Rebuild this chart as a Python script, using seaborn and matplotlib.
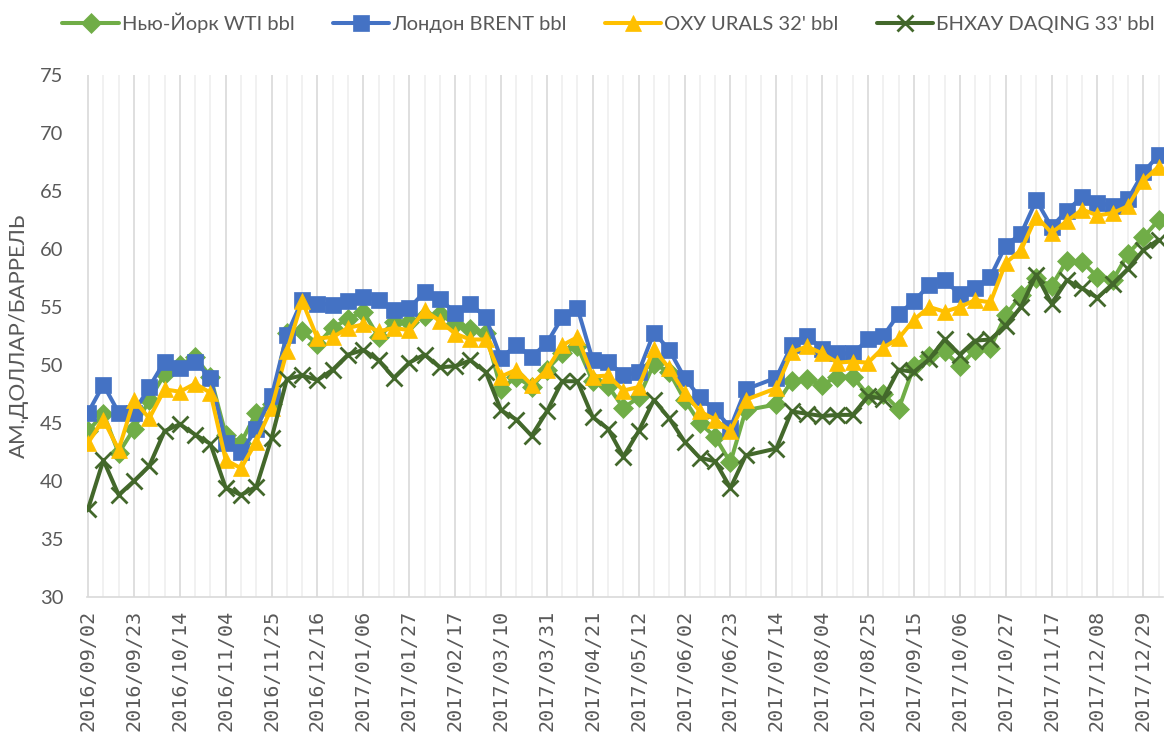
import matplotlib
matplotlib.use("Agg")
import matplotlib.pyplot as plt
import seaborn as sns
import pandas as pd

# --- data (weekly, 2017/07/07 missing in source) ---
all_weeks = pd.date_range("2016-09-02", "2018-01-05", freq="7D")
dates = all_weeks[all_weeks != pd.Timestamp("2017-07-07")]

wti = [44.3, 45.8, 42.4, 44.5, 47.0, 49.2, 50.0, 50.7, 49.0, 44.0,
       43.3, 45.9, 46.6, 52.8, 52.9, 51.8, 53.2, 54.0, 54.6, 52.4,
       53.7, 53.7, 54.2, 54.4, 53.5, 53.1, 52.8, 47.9, 49.0, 48.1,
       49.6, 51.0, 51.6, 48.6, 48.2, 46.3, 47.2, 50.1, 49.4, 47.0,
       45.0, 43.8, 41.6, 46.1,
       46.6, 48.6, 48.8, 48.3, 49.0, 49.0, 47.4, 47.5, 46.2, 49.9,
       50.8, 51.2, 49.9, 51.3, 51.5, 54.3, 56.0, 57.5, 56.8, 59.0,
       58.9, 57.6, 57.3, 59.6, 61.0, 62.5]
brent = [45.9, 48.3, 45.9, 45.9, 48.1, 50.3, 49.7, 50.3, 48.9, 43.3,
         42.5, 44.5, 47.3, 52.6, 55.6, 55.3, 55.2, 55.5, 55.9, 55.6,
         54.7, 54.9, 56.3, 55.7, 54.5, 55.3, 54.1, 50.6, 51.7, 50.7,
         51.9, 54.1, 54.9, 50.4, 50.3, 49.1, 49.4, 52.8, 51.3, 48.9,
         47.2, 46.1, 44.6, 47.9,
         48.9, 51.7, 52.5, 51.4, 51.0, 51.0, 52.2, 52.5, 54.4, 55.5,
         56.9, 57.3, 56.1, 56.6, 57.6, 60.3, 61.3, 64.2, 61.9, 63.3,
         64.5, 64.0, 63.7, 64.3, 66.6, 68.1]
urals = [43.3, 45.3, 42.7, 47.0, 45.4, 47.9, 47.7, 48.4, 47.6, 41.8,
         41.1, 43.4, 46.3, 51.2, 55.5, 52.3, 52.4, 53.2, 53.5, 52.9,
         53.2, 53.0, 54.7, 53.8, 52.7, 52.2, 52.2, 49.0, 49.6, 48.3,
         49.6, 51.7, 52.4, 49.0, 49.1, 47.8, 48.1, 51.4, 49.7, 47.6,
         46.0, 45.3, 44.3, 47.0,
         48.0, 51.1, 51.6, 51.0, 50.2, 50.3, 50.2, 51.5, 52.3, 53.9,
         55.0, 54.6, 55.0, 55.6, 55.4, 58.8, 59.9, 62.8, 61.4, 62.4,
         63.4, 62.9, 63.1, 63.7, 65.9, 67.1]
daqing = [37.6, 41.8, 38.8, 40.0, 41.3, 44.3, 44.9, 44.0, 43.2, 39.4,
          38.8, 39.5, 43.7, 48.8, 49.1, 48.7, 49.6, 50.9, 51.3, 50.4,
          48.9, 50.2, 50.9, 49.8, 49.9, 50.4, 49.4, 46.1, 45.3, 43.9,
          46.0, 48.6, 48.6, 45.5, 44.5, 42.1, 44.3, 47.0, 45.4, 43.4,
          42.0, 41.7, 39.4, 42.2,
          42.8, 46.0, 45.8, 45.6, 45.7, 45.7, 47.3, 47.1, 49.6, 49.4,
          50.5, 52.2, 50.9, 52.1, 52.2, 53.4, 55.0, 57.8, 55.3, 57.3,
          56.6, 55.8, 57.0, 58.3, 59.9, 60.8]

labels = ["Нью-Йорк WTI bbl", "Лондон BRENT bbl", "ОХУ URALS 32' bbl", "БНХАУ DAQING 33' bbl"]

sns.set_theme(style="white")
plt.rcParams["font.family"] = ["Lato", "DejaVu Sans"]
txt = "#595959"

fig = plt.figure(figsize=(11.64, 7.45), dpi=100)
ax = fig.add_axes([87 / 1164, 1 - 597 / 745, (1163 - 87) / 1164, (597 - 75) / 745])

styles = [
    (wti, "#70AD47", "D", 10, 1),
    (brent, "#4472C4", "s", 12, 2),
    (urals, "#FFC000", "^", 12, 3),
    (daqing, "#43682B", "x", 11, 4),
]
for (vals, color, mk, ms, z), lab in zip(styles, labels):
    sns.lineplot(x=dates, y=vals, ax=ax, color=color, linewidth=2.9, marker=mk,
                 markersize=ms, markeredgecolor=color, markeredgewidth=2 if mk == "x" else 0.5,
                 label=lab, zorder=z)

ax.set_ylim(30, 75)
ax.set_yticks(range(30, 76, 5))
ax.set_xlim(pd.Timestamp("2016-09-01 12:00"), pd.Timestamp("2018-01-07"))

major = pd.date_range("2016-09-02", "2017-12-29", freq="21D")
ax.set_xticks(major)
ax.set_xticklabels([d.strftime("%Y/%m/%d") for d in major], rotation=90,
                   family="DejaVu Sans Mono")
ax.set_xticks(all_weeks, minor=True)

ax.grid(False)
ax.grid(True, axis="x", which="minor", color="#efefef", linewidth=1.2, zorder=0)
ax.grid(True, axis="x", which="major", color="#d9d9d9", linewidth=1.2, zorder=0)
ax.set_axisbelow(True)

for s in ["top", "right", "left"]:
    ax.spines[s].set_visible(False)
ax.spines["bottom"].set_color("#d9d9d9")
ax.spines["bottom"].set_linewidth(1.2)

ax.tick_params(axis="x", which="major", length=6, width=1.2, color="#d9d9d9",
               labelsize=14.5, labelcolor=txt, pad=3)
ax.tick_params(axis="x", which="minor", length=0)
ax.tick_params(axis="y", length=0, labelsize=14.5, labelcolor=txt, pad=17)
ax.set_xlabel("")
ax.set_ylabel("АМ.ДОЛЛАР/БАРРЕЛЬ", fontsize=16, color=txt, labelpad=8)

ax.get_legend().remove()
handles, labs = ax.get_legend_handles_labels()
leg = fig.legend(handles, labs, loc="upper center", bbox_to_anchor=(0.523, 1.008), ncol=4,
                 frameon=False, fontsize=14.5, handlelength=2.8, columnspacing=1.9,
                 handletextpad=0.15, labelcolor=txt)

fig.savefig("out.png", dpi=100)
